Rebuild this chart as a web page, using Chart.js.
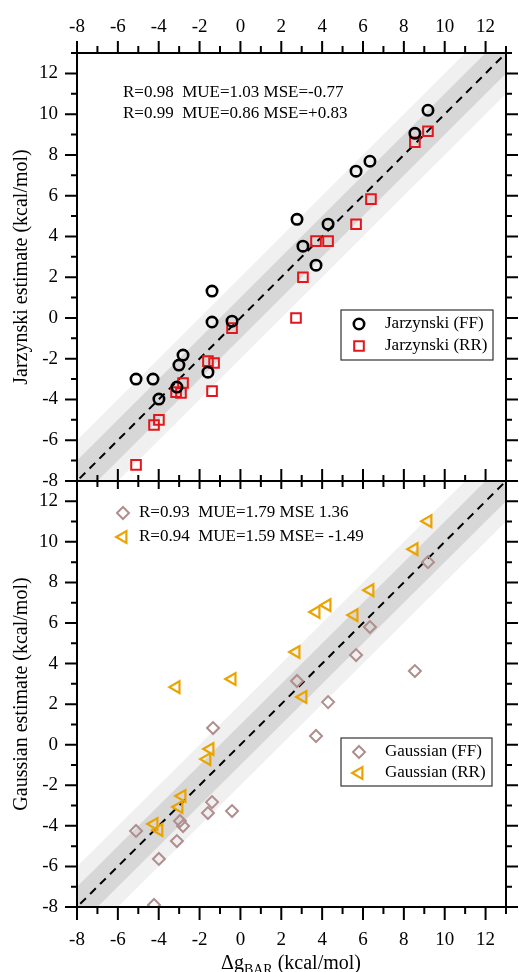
<!DOCTYPE html>
<html>
<head>
<meta charset="utf-8">
<script src="https://cdn.jsdelivr.net/npm/chart.js@4.4.1/dist/chart.umd.min.js"></script>
<style>
  body { margin: 0; background: #fff; width: 519px; height: 972px; overflow: hidden; position: relative; }
  .panel { position: absolute; left: 0; width: 519px; }
</style>
</head>
<body>
<div class="panel" style="top:0;height:495px"><canvas id="chartTop" width="519" height="495"></canvas></div>
<div class="panel" style="top:466px;height:506px"><canvas id="chartBottom" width="519" height="506"></canvas></div>
<script>
// dg_BAR (x) and estimates (y), kcal/mol
const jarFFx = [9.18, 8.54, 6.34, 5.66, 2.77, 4.29, 3.06, 3.70, -1.39, -1.39, -0.41, -2.81, -3.01, -5.11, -4.28, -1.59, -3.99, -3.11];
const jarFFy = [10.19, 9.06, 7.69, 7.20, 4.84, 4.60, 3.52, 2.59, 1.32, -0.20, -0.16, -1.82, -2.31, -3.00, -3.00, -2.66, -3.98, -3.39];
const jarRRx = [9.18, 8.54, 6.39, 5.66, 3.70, 4.29, 3.06, 2.72, -0.41, -1.59, -1.29, -2.81, -3.15, -2.91, -1.39, -3.99, -4.23, -5.11];
const jarRRy = [9.16, 8.62, 5.83, 4.60, 3.77, 3.77, 2.00, 0.00, -0.50, -2.12, -2.21, -3.19, -3.64, -3.68, -3.59, -5.00, -5.25, -7.21];
const gauFFx = [9.18, 6.34, 5.66, 8.54, 2.77, 4.29, 3.70, -1.34, -1.39, -1.59, -0.41, -2.96, -2.81, -5.11, -3.11, -3.99, -4.23];
const gauFFy = [9.00, 5.80, 4.42, 3.63, 3.14, 2.10, 0.43, 0.82, -2.83, -3.37, -3.27, -3.76, -4.01, -4.25, -4.75, -5.63, -7.90];
const gauRRx = [9.18, 8.50, 6.34, 4.24, 3.70, 5.56, 2.72, -0.41, -3.15, 3.06, -1.49, -1.64, -2.86, -3.01, -4.23, -3.99];
const gauRRy = [11.02, 9.64, 7.62, 6.88, 6.54, 6.39, 4.57, 3.24, 2.84, 2.35, -0.21, -0.71, -2.53, -3.07, -3.91, -4.20];

const axisMin = -8, axisMax = 13;
const bandInner = 1, bandOuter = 2;
const statsJar = ['R=0.98  MUE=1.03 MSE=-0.77', 'R=0.99  MUE=0.86 MSE=+0.83'];
const statsGau = ['R=0.93  MUE=1.79 MSE 1.36', 'R=0.94  MUE=1.59 MSE= -1.49'];
const namesJar = ['Jarzynski (FF)', 'Jarzynski (RR)'];
const namesGau = ['Gaussian (FF)', 'Gaussian (RR)'];

const serif = '"Liberation Serif", "Times New Roman", serif';

function pts(xs, ys) {
  return xs.map((x, i) => ({ x: x, y: ys[i] }));
}
function diag(off) {
  return [{ x: -20, y: -20 + off }, { x: 30, y: 30 + off }];
}

function bandSets() {
  return [
    { data: diag(bandOuter), showLine: true, fill: '+1', backgroundColor: '#f0f0f0', borderColor: 'rgba(0,0,0,0)', borderWidth: 0, pointRadius: 0, order: 20 },
    { data: diag(-bandOuter), showLine: true, fill: false, borderColor: 'rgba(0,0,0,0)', borderWidth: 0, pointRadius: 0, order: 20 },
    { data: diag(bandInner), showLine: true, fill: '+1', backgroundColor: '#d7d7d7', borderColor: 'rgba(0,0,0,0)', borderWidth: 0, pointRadius: 0, order: 19 },
    { data: diag(-bandInner), showLine: true, fill: false, borderColor: 'rgba(0,0,0,0)', borderWidth: 0, pointRadius: 0, order: 19 },
    { data: diag(0), showLine: true, fill: false, borderColor: '#000', borderWidth: 2, borderDash: [8, 6], pointRadius: 0, order: 10 }
  ];
}

function markerSet(label, data, style, color, radius, width, rotation) {
  return {
    label: label, data: data, showLine: false,
    pointStyle: style, pointRadius: radius, pointHoverRadius: radius,
    pointBorderColor: color, pointBackgroundColor: 'rgba(0,0,0,0)',
    pointBorderWidth: width, pointRotation: rotation || 0, order: 1
  };
}

// frame + major/minor ticks on all four sides
const frameTicks = {
  id: 'frameTicks',
  afterDraw(chart, args, o) {
    const { ctx, chartArea: a } = chart;
    const xs = chart.scales.x, ys = chart.scales.y;
    ctx.save();
    ctx.strokeStyle = '#000';
    ctx.lineWidth = 2;
    ctx.strokeRect(a.left, a.top, a.right - a.left, a.bottom - a.top);
    ctx.beginPath();
    for (let v = axisMin; v <= axisMax; v++) {
      const big = v % 2 === 0 ? 0 : 1;
      const px = xs.getPixelForValue(v);
      ctx.moveTo(px, a.top); ctx.lineTo(px, a.top - o.top[big]);
      ctx.moveTo(px, a.bottom); ctx.lineTo(px, a.bottom + o.bottom[big]);
      const py = ys.getPixelForValue(v);
      ctx.moveTo(a.left, py); ctx.lineTo(a.left - o.left[big], py);
      ctx.moveTo(a.right, py); ctx.lineTo(a.right + o.right[big], py);
    }
    ctx.stroke();
    ctx.restore();
  }
};

function drawMarker(ctx, ds, x, y) {
  ctx.save();
  ctx.strokeStyle = ds.pointBorderColor;
  ctx.fillStyle = 'rgba(0,0,0,0)';
  ctx.lineWidth = ds.pointBorderWidth;
  Chart.helpers.drawPoint(ctx, {
    pointStyle: ds.pointStyle, rotation: ds.pointRotation,
    radius: ds.pointRadius, borderWidth: ds.pointBorderWidth
  }, x, y);
  ctx.restore();
}

// stats text, legend box, x title
const notes = {
  id: 'notes',
  afterDraw(chart, args, o) {
    const ctx = chart.ctx;
    const sets = chart.data.datasets;
    ctx.save();
    ctx.fillStyle = '#000';
    ctx.font = '17px ' + serif;
    ctx.textBaseline = 'middle';
    o.stats.forEach((s) => {
      ctx.fillText(s.text, s.x, s.y);
      if (s.ds != null) drawMarker(ctx, sets[s.ds], s.mx, s.y);
    });
    const b = o.legend.box;
    ctx.strokeStyle = '#333';
    ctx.lineWidth = 1.2;
    ctx.fillStyle = '#fff';
    ctx.fillRect(b[0], b[1], b[2], b[3]);
    ctx.strokeRect(b[0], b[1], b[2], b[3]);
    o.legend.rows.forEach((r) => {
      drawMarker(ctx, sets[r.ds], o.legend.mx, r.y);
      ctx.fillStyle = '#000';
      ctx.fillText(sets[r.ds].label, o.legend.tx, r.y);
    });
    if (o.xTitle) {
      const t = o.xTitle;
      ctx.font = '20px ' + serif;
      const w1 = ctx.measureText('\u0394g').width;
      const w3 = ctx.measureText(' (kcal/mol)').width;
      ctx.font = '14px ' + serif;
      const w2 = ctx.measureText('BAR').width;
      let x = t.x - (w1 + w2 + w3) / 2;
      ctx.textBaseline = 'alphabetic';
      ctx.font = '20px ' + serif;
      ctx.fillText('\u0394g', x, t.y);
      ctx.font = '14px ' + serif;
      ctx.fillText('BAR', x + w1, t.y + 5);
      ctx.font = '20px ' + serif;
      ctx.fillText(' (kcal/mol)', x + w1 + w2, t.y);
    }
    ctx.restore();
  }
};

function baseScales(xPos, xHeight, xPad, yTitle) {
  return {
    x: {
      type: 'linear', position: xPos, min: axisMin, max: axisMax,
      grid: { display: false, drawTicks: false }, border: { display: false },
      ticks: {
        stepSize: 2, includeBounds: false, color: '#000', padding: xPad,
        font: { family: serif, size: 19 }
      },
      afterFit(s) { s.height = xHeight; s.paddingLeft = 0; s.paddingRight = 0; }
    },
    y: {
      type: 'linear', position: 'left', min: axisMin, max: axisMax,
      grid: { display: false, drawTicks: false }, border: { display: false },
      ticks: {
        stepSize: 2, includeBounds: false, color: '#000', padding: 19,
        font: { family: serif, size: 19 }
      },
      title: {
        display: true, text: yTitle, color: '#000',
        font: { family: serif, size: 20 }, padding: { top: 10, bottom: 0 }
      },
      afterFit(s) { s.width = 77; s.paddingTop = 0; s.paddingBottom = 0; }
    }
  };
}

const ctxTop = document.getElementById('chartTop').getContext('2d');
const chartTop = new Chart(ctxTop, {
  type: 'scatter',
  data: {
    datasets: bandSets().concat([
      markerSet(namesJar[0], pts(jarFFx, jarFFy), 'circle', '#000', 5.2, 2.6),
      markerSet(namesJar[1], pts(jarRRx, jarRRy), 'rect', '#e3161b', 6.8, 2)
    ])
  },
  options: {
    responsive: false, devicePixelRatio: 1, animation: false,
    layout: { padding: { left: 0, right: 13, top: 0, bottom: 14 } },
    scales: baseScales('top', 53, 15, 'Jarzynski estimate (kcal/mol)'),
    plugins: {
      legend: { display: false }, tooltip: { enabled: false },
      frameTicks: { top: [12, 7], bottom: [8, 6], left: [12, 6], right: [12, 6] },
      notes: {
        stats: [
          { text: statsJar[0], x: 123, y: 93 },
          { text: statsJar[1], x: 123, y: 114 }
        ],
        legend: { box: [341, 310, 152, 50], mx: 359, tx: 385, rows: [{ ds: 5, y: 324 }, { ds: 6, y: 346 }] }
      }
    }
  },
  plugins: [frameTicks, notes]
});

const ctxBottom = document.getElementById('chartBottom').getContext('2d');
const chartBottom = new Chart(ctxBottom, {
  type: 'scatter',
  data: {
    datasets: bandSets().concat([
      markerSet(namesGau[0], pts(gauFFx, gauFFy), 'rectRot', '#b08e8e', 6, 2),
      markerSet(namesGau[1], pts(gauRRx, gauRRy), 'triangle', '#eba300', 6.8, 2.2, -90)
    ])
  },
  options: {
    responsive: false, devicePixelRatio: 1, animation: false,
    layout: { padding: { left: 0, right: 13, top: 15, bottom: 0 } },
    scales: baseScales('bottom', 65, 22, 'Gaussian estimate (kcal/mol)'),
    plugins: {
      legend: { display: false }, tooltip: { enabled: false },
      frameTicks: { top: [12, 6], bottom: [13, 7], left: [12, 6], right: [12, 6] },
      notes: {
        stats: [
          { text: statsGau[0], x: 139, y: 47, ds: 5, mx: 123 },
          { text: statsGau[1], x: 139, y: 71, ds: 6, mx: 123 }
        ],
        legend: { box: [341, 272, 151, 48], mx: 359, tx: 385, rows: [{ ds: 5, y: 286 }, { ds: 6, y: 307 }] },
        xTitle: { x: 291, y: 503 }
      }
    }
  },
  plugins: [frameTicks, notes]
});
</script>
</body>
</html>
